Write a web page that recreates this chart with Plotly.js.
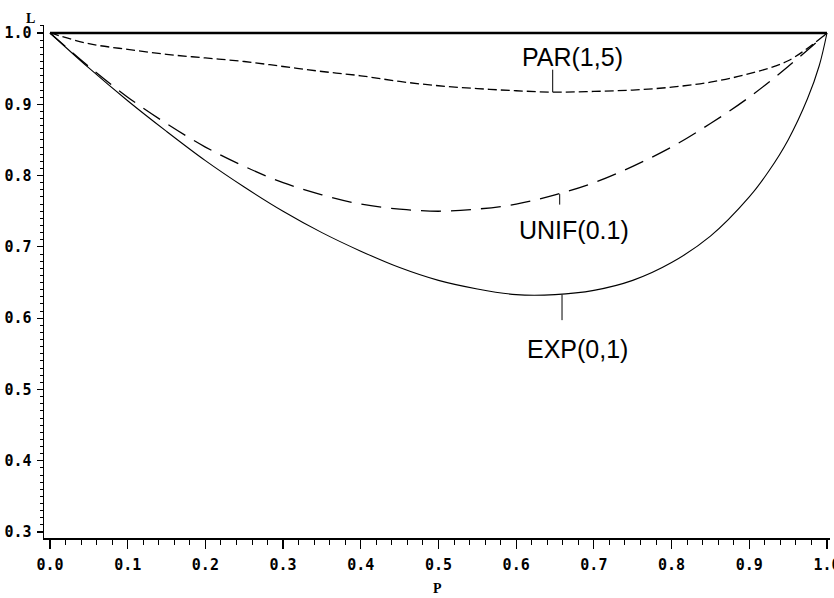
<!DOCTYPE html>
<html>
<head>
<meta charset="utf-8">
<script src="https://cdn.plot.ly/plotly-3.0.1.min.js"></script>
<style>
html,body{margin:0;padding:0;background:#fff;}
#chart{width:834px;height:598px;}
</style>
</head>
<body>
<div id="chart"></div>
<script>
// p values (horizontal axis)
const pVals = [0, 0.05, 0.1, 0.15, 0.2, 0.25, 0.3, 0.35, 0.4, 0.45, 0.5, 0.55, 0.6, 0.65, 0.7, 0.75, 0.8, 0.85, 0.9, 0.95, 1.0];
// PAR(1,5) curve
const parL = [1.0, 0.985, 0.977, 0.970, 0.965, 0.960, 0.953, 0.946, 0.940, 0.932, 0.926, 0.922, 0.919, 0.917, 0.918, 0.920, 0.924, 0.931, 0.943, 0.961, 1.0];
// UNIF(0.1) curve
const unifL = [1.0, 0.953, 0.910, 0.873, 0.840, 0.813, 0.790, 0.773, 0.760, 0.753, 0.750, 0.753, 0.760, 0.773, 0.790, 0.813, 0.840, 0.873, 0.910, 0.953, 1.0];
// EXP(0,1) curve (denser near p=1)
const expP = [0, 0.05, 0.1, 0.15, 0.2, 0.25, 0.3, 0.35, 0.4, 0.45, 0.5, 0.55, 0.6, 0.65, 0.7, 0.75, 0.8, 0.85, 0.9, 0.925, 0.95, 0.975, 0.99, 1.0];
const expL = [1.0, 0.951, 0.905, 0.862, 0.821, 0.784, 0.750, 0.720, 0.694, 0.671, 0.653, 0.641, 0.633, 0.633, 0.639, 0.653, 0.678, 0.715, 0.770, 0.806, 0.850, 0.908, 0.954, 1.0];
// reference line L = 1
const refP = [0, 1];
const refL = [1, 1];
// y and x tick labels
const yTicks = [0.3, 0.4, 0.5, 0.6, 0.7, 0.8, 0.9, 1.0];
const xTicks = [0, 0.1, 0.2, 0.3, 0.4, 0.5, 0.6, 0.7, 0.8, 0.9, 1.0];
// curve labels: text, p where the leader touches the curve
const labelText = ['PAR(1,5)', 'UNIF(0.1)', 'EXP(0,1)'];
const labelP = [0.647, 0.656, 0.659];
const labelL = [0.917, 0.774, 0.633];

const traces = [
  {x: refP, y: refL, mode: 'lines', line: {color: '#000', width: 2.5}, hoverinfo: 'skip'},
  {x: pVals, y: parL, mode: 'lines', line: {color: '#000', width: 1.3, dash: '9px,4px', shape: 'spline'}},
  {x: pVals, y: unifL, mode: 'lines', line: {color: '#000', width: 1.3, dash: '20px,10px', shape: 'spline'}},
  {x: expP, y: expL, mode: 'lines', line: {color: '#000', width: 1.1, shape: 'spline'}}
];

const labelFont = {family: 'Liberation Sans, Arial, sans-serif', size: 25, color: '#000'};
const textShift = [[20, 35], [14, -36], [15, -54]];
const leaderLen = [-24, 12, 27];
const annotations = [];
for (let i = 0; i < labelText.length; i++) {
  annotations.push({x: labelP[i], y: labelL[i], xref: 'x', yref: 'y', text: labelText[i], showarrow: false,
    xshift: textShift[i][0], yshift: textShift[i][1], font: labelFont});
  annotations.push({x: labelP[i], y: labelL[i], xref: 'x', yref: 'y', text: '', showarrow: true,
    ax: 0, ay: leaderLen[i], arrowhead: 0, arrowwidth: 1, arrowcolor: '#000', standoff: 0, startstandoff: 0});
}
annotations.push({x: 0, y: 1, xref: 'paper', yref: 'paper', text: 'L', showarrow: false,
  xshift: -14, yshift: 7, xanchor: 'center', yanchor: 'middle',
  font: {family: 'Liberation Serif, DejaVu Serif, serif', size: 14, color: '#000', weight: 'bold'}});
annotations.push({x: 0.5, y: 0, xref: 'paper', yref: 'paper', text: 'P', showarrow: false,
  xshift: 0, yshift: -50, xanchor: 'center', yanchor: 'middle',
  font: {family: 'Liberation Serif, DejaVu Serif, serif', size: 14, color: '#000', weight: 'bold'}});

const tickFont = {family: 'DejaVu Sans Mono, Liberation Mono, monospace', size: 15, color: '#000', weight: 'bold'};

const layout = {
  width: 834, height: 598,
  margin: {l: 44, r: 4, t: 25, b: 60},
  paper_bgcolor: '#fff', plot_bgcolor: '#fff',
  showlegend: false,
  font: {color: '#000'},
  xaxis: {
    range: [-0.0077, 1.0039], showgrid: false, zeroline: false,
    showline: true, linecolor: '#000', linewidth: 1.5, mirror: false,
    tickmode: 'array', tickvals: xTicks, ticktext: xTicks.map(v => v.toFixed(1)),
    ticks: 'outside', ticklen: 9, tickwidth: 1.2, tickcolor: '#000',
    ticklabelstandoff: 3, ticklabeloverflow: 'allow',
    minor: {dtick: 0.02, tick0: 0, ticks: 'outside', ticklen: 5, tickwidth: 1, tickcolor: '#000', showgrid: false},
    tickfont: tickFont
  },
  yaxis: {
    range: [0.2917, 1.0112], showgrid: false, zeroline: false,
    showline: true, linecolor: '#000', linewidth: 1.5, mirror: false,
    tickmode: 'array', tickvals: yTicks, ticktext: yTicks.map(v => v.toFixed(1)),
    ticks: 'outside', ticklen: 6, tickwidth: 1.2, tickcolor: '#000',
    ticklabelstandoff: 2, ticklabeloverflow: 'allow',
    minor: {dtick: 0.01, tick0: 0, ticks: 'outside', ticklen: 3, tickwidth: 1, tickcolor: '#000', showgrid: false},
    tickfont: tickFont
  },
  annotations: annotations
};

Plotly.newPlot('chart', traces, layout, {displayModeBar: false, staticPlot: true});
</script>
</body>
</html>
